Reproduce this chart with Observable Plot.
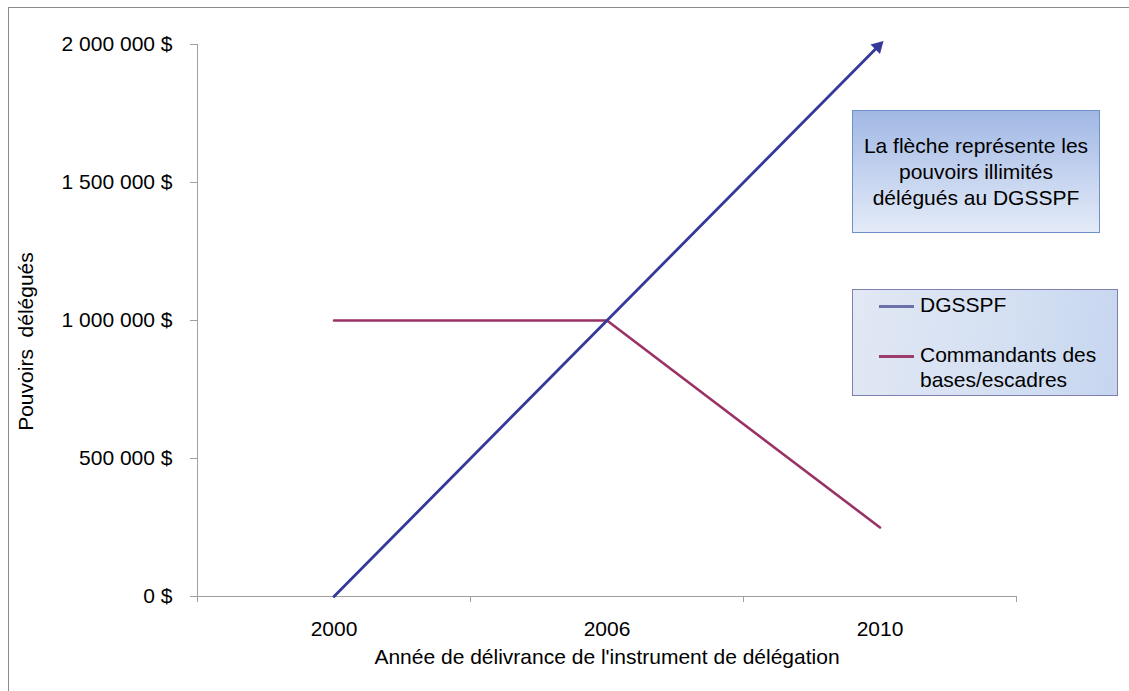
<!DOCTYPE html>
<html><head><meta charset="utf-8">
<script src="https://cdn.jsdelivr.net/npm/d3@7"></script>
<script src="https://cdn.jsdelivr.net/npm/@observablehq/plot@0.6"></script>
<style>
body{margin:0;background:#fff;font-family:"Liberation Sans",Arial,sans-serif;}
#wrap{position:relative;width:1129px;height:691px;overflow:hidden;}
#frame{position:absolute;left:8px;top:7px;width:1140px;height:700px;border:1px solid #8c8c8c;}
.note{position:absolute;left:852px;top:110px;width:246px;height:121px;border:1.5px solid #6e90c8;
 background:linear-gradient(to bottom,#a1b8e4,#e4ebf8);box-sizing:content-box;}
.note div{position:absolute;left:0;width:100%;text-align:center;font-size:21px;line-height:26px;color:#000;}
.leg{position:absolute;left:852px;top:289px;width:264px;height:105px;border:1.5px solid #8080b0;
 background:linear-gradient(100deg,#e2e8f4,#d3dff2 60%,#c6d6ef);}
.leg .t{position:absolute;left:67px;font-size:21px;line-height:26px;color:#000;}
.leg .l{position:absolute;left:26px;width:35px;height:3px;}
svg{position:absolute;left:0;top:0;}
</style></head>
<body><div id="wrap"><div id="frame"></div></div>
<script>
const categories = ["2000", "2006", "2010"];
const dgsspf = [0, 1000000, 2000000];
const commandants = [1000000, 1000000, 250000];
const yTicks = [0, 500000, 1000000, 1500000, 2000000];
const seriesNames = ["DGSSPF", "Commandants des bases/escadres"];
const seriesColors = ["#35399a", "#993366"];
const legendColors = ["#6e70aa", "#9c3d6c"];
const yTitle = "Pouvoirs\u00a0\u00a0délégués";
const xTitle = "Année de délivrance de l'instrument de délégation";
const noteLines = ["La flèche représente les", "pouvoirs illimités", "délégués au DGSSPF"];

const idx = categories.map((c, i) => i);
const dataD = idx.map(i => ({x: i, y: dgsspf[i]}));
const dataC = idx.map(i => ({x: i, y: commandants[i]}));
const fmt = d => d3.format(",")(d).replace(/,/g, " ") + " $";
const axisGray = "#a0a0a0";

const chart = Plot.plot({
  width: 1129, height: 691,
  marginLeft: 197, marginRight: 113, marginTop: 44, marginBottom: 95,
  style: {fontFamily: "'Liberation Sans', Arial, sans-serif", fontSize: "21px", color: "#000", background: "transparent"},
  x: {type: "linear", domain: [-0.5, categories.length - 0.5], axis: null},
  y: {domain: [0, 2000000], axis: null},
  marks: [
    Plot.ruleX([-0.5], {y1: 0, y2: 2000000, stroke: axisGray}),
    Plot.ruleY([0], {x1: -0.5, x2: categories.length - 0.5, stroke: axisGray}),
    Plot.axisY({ticks: yTicks, tickSize: 7, tickPadding: 18, tickFormat: fmt, stroke: axisGray, fill: "#000", label: null}),
    Plot.axisX({ticks: [-0.5, 0.5, 1.5, 2.5], tickSize: 6, tickFormat: () => "", stroke: axisGray, label: null}),
    Plot.axisX({ticks: idx, tickSize: 0, tickPadding: 25, tickFormat: i => categories[i], fill: "#000", label: null}),
    Plot.text([xTitle], {frameAnchor: "bottom", dy: 61, lineAnchor: "middle", fill: "#000"}),
    Plot.text([yTitle], {frameAnchor: "left", rotate: -90, dx: -171, dy: 21, textAnchor: "middle", lineAnchor: "middle", fill: "#000"}),
    Plot.line(dataC, {x: "x", y: "y", stroke: seriesColors[1], strokeWidth: 2.6}),
    Plot.line(dataD, {x: "x", y: "y", stroke: seriesColors[0], strokeWidth: 2.8}),
    Plot.dot([dataD[dataD.length - 1]], {x: "x", y: "y", symbol: "triangle", r: 5, rotate: 45, fill: seriesColors[0], stroke: "none", dx: -2, dy: 2})
  ]
});
const wrap = document.getElementById("wrap");
wrap.appendChild(chart);

const note = document.createElement("div");
note.className = "note";
noteLines.forEach((t, i) => {
  const d = document.createElement("div");
  d.textContent = t;
  d.style.top = (22 + i * 26) + "px";
  note.appendChild(d);
});
wrap.appendChild(note);

const leg = document.createElement("div");
leg.className = "leg";
const items = [
  {lines: [seriesNames[0]], top: 2, color: legendColors[0]},
  {lines: ["Commandants des", "bases/escadres"], top: 52, color: legendColors[1]}
];
items.forEach(it => {
  const l = document.createElement("div");
  l.className = "l"; l.style.top = (it.top + 13) + "px"; l.style.background = it.color;
  leg.appendChild(l);
  it.lines.forEach((t, j) => {
    const d = document.createElement("div");
    d.className = "t"; d.textContent = t; d.style.top = (it.top + j * 25) + "px";
    leg.appendChild(d);
  });
});
wrap.appendChild(leg);
</script></body></html>
